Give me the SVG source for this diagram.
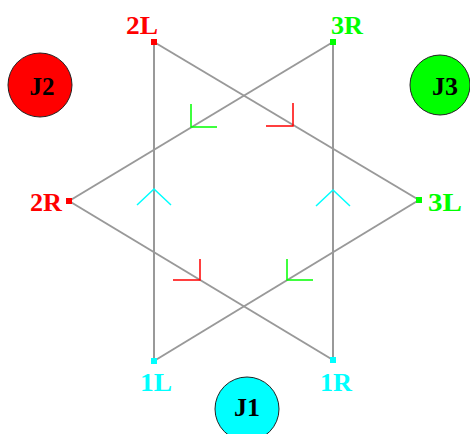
<svg xmlns="http://www.w3.org/2000/svg" width="470" height="434" viewBox="0 0 470 434">
<style>
.edge{stroke:#999;stroke-width:2;fill:none}
.lbl{font-family:"Liberation Serif",serif;font-weight:bold;font-size:25px}
.j{font-family:"Liberation Serif",serif;font-weight:bold;font-size:25px;fill:#000;text-anchor:middle}
.jc{stroke:#222;stroke-width:1}
.red{fill:#f00}.grn{fill:#0f0}.cyn{fill:#0ff}
.mk{fill:none;stroke-width:1.5}
</style>
<rect width="470" height="434" fill="#fff"/>
<g id="connectors">
<line class="edge" x1="154" y1="42" x2="154" y2="361"/>
<line class="edge" x1="333" y1="42" x2="333" y2="360"/>
<line class="edge" x1="154" y1="42" x2="419" y2="200"/>
<line class="edge" x1="333" y1="42" x2="69" y2="201"/>
<line class="edge" x1="69" y1="201" x2="333" y2="360"/>
<line class="edge" x1="419" y1="200" x2="154" y2="361"/>
<polyline class="mk" stroke="#0f0" points="191,104 191,127 217,127"/>
<polyline class="mk" stroke="#f00" points="293,103 293,126 266,126"/>
<polyline class="mk" stroke="#f00" points="200,259 200,280 173,280"/>
<polyline class="mk" stroke="#0f0" points="287,259 287,280 313,280"/>
<polyline class="mk" stroke="#0ff" points="137,205 154,189 171,205"/>
<polyline class="mk" stroke="#0ff" points="316,206 333,190 350,206"/>
</g>
<g id="J2"><circle class="jc red" cx="40" cy="85" r="32"/><text class="j" x="42" y="95" textLength="25" lengthAdjust="spacingAndGlyphs">J2</text></g>
<g id="J3"><circle class="jc grn" cx="440" cy="85" r="30"/><text class="j" x="445" y="95" textLength="26" lengthAdjust="spacingAndGlyphs">J3</text></g>
<g id="J1"><circle class="jc cyn" cx="247" cy="409" r="32"/><text class="j" x="247" y="416" textLength="26" lengthAdjust="spacingAndGlyphs">J1</text></g>
<g id="n2L"><rect class="red" x="151" y="39" width="6" height="6"/><text class="lbl red" x="126" y="34" textLength="32" lengthAdjust="spacingAndGlyphs">2L</text></g>
<g id="n3R"><rect class="grn" x="330" y="39" width="6" height="6"/><text class="lbl grn" x="331" y="34" textLength="32" lengthAdjust="spacingAndGlyphs">3R</text></g>
<g id="n2R"><rect class="red" x="66" y="198" width="6" height="6"/><text class="lbl red" x="30" y="211" textLength="32" lengthAdjust="spacingAndGlyphs">2R</text></g>
<g id="n3L"><rect class="grn" x="416" y="197" width="6" height="6"/><text class="lbl grn" x="428" y="211" textLength="34" lengthAdjust="spacingAndGlyphs">3L</text></g>
<g id="n1L"><rect class="cyn" x="151" y="358" width="6" height="6"/><text class="lbl cyn" x="140" y="391" textLength="32" lengthAdjust="spacingAndGlyphs">1L</text></g>
<g id="n1R"><rect class="cyn" x="330" y="357" width="6" height="6"/><text class="lbl cyn" x="320" y="391" textLength="32" lengthAdjust="spacingAndGlyphs">1R</text></g>
</svg>
